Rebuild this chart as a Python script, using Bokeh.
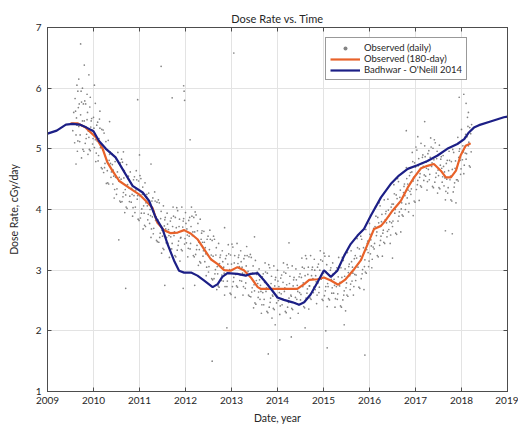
from bokeh.plotting import figure
from bokeh.models import Legend, LegendItem, Label, LinearAxis, FixedTicker
from bokeh.embed import file_html
from bokeh.resources import INLINE

# ---- data (dose rate in units of 1e-4 cGy/day) ----
x_ticks = [2009, 2010, 2011, 2012, 2013, 2014, 2015, 2016, 2017, 2018, 2019]
y_ticks = [1, 2, 3, 4, 5, 6, 7]

# Badhwar - O'Neill 2014 model
bon_year = [2009.0, 2009.2, 2009.4, 2009.55, 2009.7, 2009.85, 2010.0, 2010.12, 2010.27, 2010.48,
            2010.7, 2010.85, 2011.07, 2011.21, 2011.35, 2011.5, 2011.61, 2011.75, 2011.86, 2011.97,
            2012.12, 2012.26, 2012.4, 2012.59, 2012.7, 2012.8, 2012.91, 2013.13, 2013.31, 2013.42,
            2013.57, 2013.71, 2013.86, 2014.0, 2014.14, 2014.33, 2014.47, 2014.58, 2014.72, 2014.87,
            2015.01, 2015.16, 2015.3, 2015.45, 2015.59, 2015.74, 2015.88, 2016.03, 2016.25, 2016.46,
            2016.64, 2016.83, 2017.04, 2017.26, 2017.48, 2017.69, 2017.91, 2018.06, 2018.16, 2018.27,
            2018.38, 2018.63, 2018.92, 2019.0]
bon_dose = [5.25, 5.30, 5.40, 5.41, 5.40, 5.35, 5.29, 5.13, 5.00, 4.86,
            4.58, 4.39, 4.28, 4.14, 3.87, 3.68, 3.43, 3.16, 2.99, 2.96,
            2.96, 2.91, 2.83, 2.72, 2.77, 2.89, 2.95, 2.94, 2.91, 2.94,
            2.95, 2.83, 2.69, 2.55, 2.51, 2.47, 2.43, 2.47, 2.60, 2.80,
            3.00, 2.89, 2.99, 3.24, 3.43, 3.57, 3.68, 3.90, 4.20, 4.42,
            4.56, 4.67, 4.73, 4.80, 4.89, 5.00, 5.08, 5.16, 5.27, 5.35,
            5.39, 5.45, 5.52, 5.53]

# Observed, 180-day average
obs180_year = [2009.5, 2009.65, 2009.83, 2010.05, 2010.2, 2010.3, 2010.41, 2010.56, 2010.77, 2010.99,
               2011.14, 2011.28, 2011.39, 2011.53, 2011.68, 2011.83, 2011.97, 2012.12, 2012.26, 2012.4,
               2012.55, 2012.7, 2012.84, 2012.98, 2013.13, 2013.27, 2013.42, 2013.57, 2013.64, 2014.43,
               2014.58, 2014.69, 2014.87, 2015.01, 2015.16, 2015.32, 2015.48, 2015.67, 2015.81, 2015.96,
               2016.1, 2016.25, 2016.35, 2016.5, 2016.68, 2016.83, 2016.97, 2017.12, 2017.26, 2017.4,
               2017.55, 2017.66, 2017.77, 2017.88, 2017.98, 2018.09, 2018.2]
obs180_dose = [5.42, 5.42, 5.35, 5.19, 5.00, 4.78, 4.64, 4.47, 4.36, 4.25,
               4.14, 4.03, 3.78, 3.66, 3.61, 3.62, 3.66, 3.60, 3.51, 3.35,
               3.18, 3.10, 3.00, 2.99, 3.05, 3.00, 2.88, 2.72, 2.69, 2.69,
               2.77, 2.84, 2.85, 2.88, 2.83, 2.76, 2.85, 3.02, 3.16, 3.43,
               3.68, 3.73, 3.82, 3.98, 4.14, 4.36, 4.53, 4.68, 4.72, 4.75,
               4.64, 4.53, 4.53, 4.64, 4.89, 5.05, 5.09]

# Observed, daily (a sample of the cloud)
daily_year_a = [
    2009.55, 2009.57, 2009.59,
    2009.60, 2009.62, 2009.63, 2009.65, 2009.67, 2009.68,
    2009.70, 2009.72, 2009.73, 2009.75, 2009.77, 2009.78,
    2009.80, 2009.82, 2009.83, 2009.85, 2009.87, 2009.88,
    2009.90, 2009.92, 2009.93, 2009.95, 2009.97, 2009.98,
    2010.00, 2010.02, 2010.03, 2010.05, 2010.07, 2010.08,
    2010.10, 2010.12, 2010.13, 2010.15, 2010.17, 2010.18,
    2010.20, 2010.22, 2010.23, 2010.25, 2010.27, 2010.28,
    2010.30, 2010.32, 2010.33, 2010.35, 2010.37, 2010.38,
    2010.40, 2010.42, 2010.43, 2010.45, 2010.47, 2010.48,
    2010.50, 2010.52, 2010.53, 2010.55, 2010.57, 2010.58,
    2010.60, 2010.62, 2010.63, 2010.65, 2010.67, 2010.68,
    2010.70, 2010.72, 2010.73, 2010.75, 2010.77, 2010.78,
    2010.80, 2010.82, 2010.83, 2010.85, 2010.87, 2010.88,
    2010.90, 2010.92, 2010.93, 2010.95, 2010.97, 2010.98,
    2011.00, 2011.02, 2011.03, 2011.05, 2011.07, 2011.08,
    2011.10, 2011.12, 2011.13, 2011.15, 2011.17, 2011.18,
    2011.20, 2011.22, 2011.23, 2011.25, 2011.27, 2011.28,
    2011.30, 2011.32, 2011.33, 2011.35, 2011.37, 2011.38,
    2011.40, 2011.42, 2011.43, 2011.45, 2011.47, 2011.48,
    2011.50, 2011.52, 2011.53, 2011.55, 2011.57, 2011.58,
    2011.60, 2011.62, 2011.63, 2011.65, 2011.67, 2011.68,
    2011.70, 2011.72, 2011.73, 2011.75, 2011.77, 2011.78,
    2011.80, 2011.82, 2011.83, 2011.85, 2011.87, 2011.88,
    2011.90, 2011.92, 2011.93, 2011.95, 2011.97, 2011.98,
    2012.00, 2012.02, 2012.03, 2012.05, 2012.07, 2012.08,
    2012.10, 2012.12, 2012.13, 2012.15, 2012.17, 2012.18,
    2012.20, 2012.22, 2012.23, 2012.25, 2012.27, 2012.28,
    2012.30, 2012.32, 2012.33, 2012.35, 2012.37, 2012.38,
    2012.40, 2012.42, 2012.43, 2012.45, 2012.47, 2012.48,
    2012.50, 2012.52, 2012.53, 2012.55, 2012.57, 2012.58,
    2012.60, 2012.62, 2012.63, 2012.65, 2012.67, 2012.68,
    2012.70, 2012.72, 2012.73, 2012.75, 2012.77, 2012.78,
    2012.80, 2012.82, 2012.83, 2012.85, 2012.87, 2012.88,
    2012.90, 2012.92, 2012.93, 2012.95, 2012.97, 2012.98,
    2013.00, 2013.02, 2013.03, 2013.05, 2013.07, 2013.08,
    2013.10, 2013.12, 2013.13, 2013.15, 2013.17, 2013.18,
    2013.20, 2013.22, 2013.23, 2013.25, 2013.27, 2013.28,
    2013.30, 2013.32, 2013.33, 2013.35, 2013.37, 2013.38,
    2013.40, 2013.42, 2013.43, 2013.45, 2013.47, 2013.48,
    2013.50, 2013.52, 2013.53, 2013.55, 2013.57, 2013.58,
    2013.60, 2013.62, 2013.63, 2013.65, 2013.67, 2013.68,
    2013.70, 2013.72, 2013.73, 2013.75, 2013.77, 2013.78,
    2013.80, 2013.82, 2013.83, 2013.85, 2013.87, 2013.88,
    2013.90, 2013.92, 2013.93, 2013.95, 2013.97, 2013.98,
    2014.00, 2014.02, 2014.03, 2014.05, 2014.07, 2014.08,
    2014.10, 2014.12, 2014.13, 2014.15, 2014.17, 2014.18,
    2014.20, 2014.22, 2014.23, 2014.25, 2014.27, 2014.28,
    2014.30, 2014.32, 2014.33, 2014.35, 2014.37, 2014.38,
    2014.40, 2014.42, 2014.43, 2014.45, 2014.47, 2014.48,
    2014.50, 2014.52, 2014.53, 2014.55, 2014.57, 2014.58,
    2014.60, 2014.62, 2014.63, 2014.65, 2014.67, 2014.68,
    2014.70, 2014.72, 2014.73, 2014.75, 2014.77, 2014.78,
    2014.80, 2014.82, 2014.83, 2014.85, 2014.87, 2014.88,
    2014.90, 2014.92, 2014.93, 2014.95, 2014.97, 2014.98,
    2015.00, 2015.02, 2015.03, 2015.05, 2015.07, 2015.08,
    2015.10, 2015.12, 2015.13, 2015.15, 2015.17, 2015.18,
    2015.20, 2015.22, 2015.23, 2015.25, 2015.27, 2015.28,
    2015.30, 2015.32, 2015.33, 2015.35, 2015.37, 2015.38,
    2015.40, 2015.42, 2015.43, 2015.45, 2015.47, 2015.48,
    2015.50, 2015.52, 2015.53, 2015.55, 2015.57, 2015.58,
    2015.60, 2015.62, 2015.63, 2015.65, 2015.67, 2015.68,
    2015.70, 2015.72, 2015.73, 2015.75, 2015.77, 2015.78,
    2015.80, 2015.82, 2015.83, 2015.85, 2015.87, 2015.88,
    2015.90, 2015.92, 2015.93, 2015.95, 2015.97, 2015.98,
    2016.00, 2016.02, 2016.03, 2016.05, 2016.07, 2016.08,
    2016.10, 2016.12, 2016.13, 2016.15, 2016.17, 2016.18,
    2016.20, 2016.22, 2016.23, 2016.25, 2016.27, 2016.28,
    2016.30, 2016.32, 2016.33, 2016.35, 2016.37, 2016.38,
    2016.40, 2016.42, 2016.43, 2016.45, 2016.47, 2016.48,
    2016.50, 2016.52, 2016.53, 2016.55, 2016.57, 2016.58,
    2016.60, 2016.62, 2016.63, 2016.65, 2016.67, 2016.68,
    2016.70, 2016.72, 2016.73, 2016.75, 2016.77, 2016.78,
    2016.80, 2016.82, 2016.83, 2016.85, 2016.87, 2016.88,
    2016.90, 2016.92, 2016.93, 2016.95, 2016.97, 2016.98,
    2017.00, 2017.02, 2017.03, 2017.05, 2017.07, 2017.08,
    2017.10, 2017.12, 2017.13, 2017.15, 2017.17, 2017.18,
    2017.20, 2017.22, 2017.23, 2017.25, 2017.27, 2017.28,
    2017.30, 2017.32, 2017.33, 2017.35, 2017.37, 2017.38,
    2017.40, 2017.42, 2017.43, 2017.45, 2017.47, 2017.48,
    2017.50, 2017.52, 2017.53, 2017.55, 2017.57, 2017.58,
    2017.60, 2017.62, 2017.63, 2017.65, 2017.67, 2017.68,
    2017.70, 2017.72, 2017.73, 2017.75, 2017.77, 2017.78,
    2017.80, 2017.82, 2017.83, 2017.85, 2017.87, 2017.88,
    2017.90, 2017.92, 2017.93, 2017.95, 2017.97, 2017.98,
    2018.00, 2018.02, 2018.03, 2018.05, 2018.07, 2018.08,
    2018.10, 2018.12, 2018.13, 2018.15, 2018.17, 2018.18,
    2018.20, 2018.21, 2018.22,
]
daily_dose_a = [
    5.30, 5.60, 5.10,
    5.83, 5.23, 5.51, 4.96, 5.68, 5.37,
    5.12, 5.56, 5.95, 5.38, 4.99, 5.74,
    5.46, 5.09, 5.74, 5.24, 5.60, 4.91,
    5.19, 5.69, 4.97, 5.46, 5.31, 5.08,
    5.52, 5.02, 5.25, 4.79, 5.39, 5.13,
    4.80, 5.17, 5.49, 5.02, 4.69, 5.32,
    4.98, 4.61, 5.26, 4.76, 5.12, 4.43,
    4.64, 5.14, 4.42, 4.91, 4.76, 4.53,
    4.92, 4.42, 4.65, 4.19, 4.79, 4.53,
    4.25, 4.62, 4.94, 4.47, 4.14, 4.77,
    4.50, 4.13, 4.78, 4.28, 4.64, 3.95,
    4.24, 4.74, 4.02, 4.51, 4.36, 4.13,
    4.62, 4.12, 4.35, 3.89, 4.49, 4.23,
    3.95, 4.32, 4.64, 4.17, 3.84, 4.47,
    4.23, 3.86, 4.51, 4.01, 4.37, 3.68,
    3.94, 4.44, 3.72, 4.21, 4.06, 3.83,
    4.27, 3.77, 4.00, 3.54, 4.14, 3.88,
    3.60, 3.97, 4.29, 3.82, 3.49, 4.12,
    3.83, 3.46, 4.11, 3.61, 3.97, 3.28,
    3.56, 4.06, 3.34, 3.83, 3.68, 3.45,
    3.94, 3.44, 3.67, 3.21, 3.81, 3.55,
    3.35, 3.72, 4.04, 3.57, 3.24, 3.87,
    3.70, 3.33, 3.98, 3.48, 3.84, 3.15,
    3.54, 4.04, 3.32, 3.81, 3.66, 3.43,
    3.95, 3.45, 3.68, 3.22, 3.82, 3.56,
    3.35, 3.72, 4.04, 3.57, 3.24, 3.87,
    3.63, 3.26, 3.91, 3.41, 3.77, 3.08,
    3.34, 3.84, 3.12, 3.61, 3.46, 3.23,
    3.64, 3.14, 3.37, 2.91, 3.51, 3.25,
    2.97, 3.34, 3.66, 3.19, 2.86, 3.49,
    3.23, 2.86, 3.51, 3.01, 3.37, 2.68,
    2.94, 3.44, 2.72, 3.21, 3.06, 2.83,
    3.32, 2.82, 3.05, 2.59, 3.19, 2.93,
    2.73, 3.10, 3.42, 2.95, 2.62, 3.25,
    3.10, 2.73, 3.38, 2.88, 3.24, 2.55,
    2.94, 3.44, 2.72, 3.21, 3.06, 2.83,
    3.32, 2.82, 3.05, 2.59, 3.19, 2.93,
    2.70, 3.07, 3.39, 2.92, 2.59, 3.22,
    2.93, 2.56, 3.21, 2.71, 3.07, 2.38,
    2.66, 3.16, 2.44, 2.93, 2.78, 2.55,
    3.02, 2.52, 2.75, 2.29, 2.89, 2.63,
    2.43, 2.80, 3.12, 2.65, 2.32, 2.95,
    2.76, 2.39, 3.04, 2.54, 2.90, 2.21,
    2.57, 3.07, 2.35, 2.84, 2.69, 2.46,
    3.00, 2.50, 2.73, 2.27, 2.87, 2.61,
    2.43, 2.80, 3.12, 2.65, 2.32, 2.95,
    2.76, 2.39, 3.04, 2.54, 2.90, 2.21,
    2.57, 3.07, 2.35, 2.84, 2.69, 2.46,
    3.02, 2.52, 2.75, 2.29, 2.89, 2.63,
    2.51, 2.88, 3.20, 2.73, 2.40, 3.03,
    2.91, 2.54, 3.19, 2.69, 3.05, 2.36,
    2.74, 3.24, 2.52, 3.01, 2.86, 2.63,
    3.18, 2.68, 2.91, 2.45, 3.05, 2.79,
    2.63, 3.00, 3.32, 2.85, 2.52, 3.15,
    2.95, 2.58, 3.23, 2.73, 3.09, 2.40,
    2.73, 3.23, 2.51, 3.00, 2.85, 2.62,
    3.12, 2.62, 2.85, 2.39, 2.99, 2.73,
    2.52, 2.89, 3.21, 2.74, 2.41, 3.04,
    2.88, 2.51, 3.16, 2.66, 3.02, 2.33,
    2.79, 3.29, 2.57, 3.06, 2.91, 2.68,
    3.32, 2.82, 3.05, 2.59, 3.19, 2.93,
    2.83, 3.20, 3.52, 3.05, 2.72, 3.35,
    3.23, 2.86, 3.51, 3.01, 3.37, 2.68,
    3.17, 3.67, 2.95, 3.44, 3.29, 3.06,
    3.77, 3.27, 3.50, 3.04, 3.64, 3.38,
    3.35, 3.72, 4.04, 3.57, 3.24, 3.87,
    3.78, 3.41, 4.06, 3.56, 3.92, 3.23,
    3.66, 4.16, 3.44, 3.93, 3.78, 3.55,
    4.17, 3.67, 3.90, 3.44, 4.04, 3.78,
    3.72, 4.09, 4.41, 3.94, 3.61, 4.24,
    4.18, 3.81, 4.46, 3.96, 4.32, 3.63,
    4.11, 4.61, 3.89, 4.38, 4.23, 4.00,
    4.69, 4.19, 4.42, 3.96, 4.56, 4.30,
    4.25, 4.62, 4.94, 4.47, 4.14, 4.77,
    4.70, 4.33, 4.98, 4.48, 4.84, 4.15,
    4.59, 5.09, 4.37, 4.86, 4.71, 4.48,
    5.05, 4.55, 4.78, 4.32, 4.92, 4.66,
    4.49, 4.86, 5.18, 4.71, 4.38, 5.01,
    4.82, 4.45, 5.10, 4.60, 4.96, 4.27,
    4.56, 5.06, 4.34, 4.83, 4.68, 4.45,
    4.89, 4.39, 4.62, 4.16, 4.76, 4.50,
    4.27, 4.64, 4.96, 4.49, 4.16, 4.79,
    4.66, 4.29, 4.94, 4.44, 4.80, 4.11,
    4.69, 5.19, 4.47, 4.96, 4.81, 4.58,
    5.32, 4.82, 5.05, 4.59, 5.19, 4.93,
    4.83, 5.20, 5.52, 5.05, 4.72, 5.35,
    5.25, 4.95, 5.40,
]
daily_year_b = [
    2009.61, 2009.64, 2009.66, 2009.69,
    2009.71, 2009.74, 2009.76, 2009.79,
    2009.81, 2009.84, 2009.86, 2009.89,
    2009.91, 2009.94, 2009.96, 2009.99,
    2010.01, 2010.04, 2010.06, 2010.09,
    2010.11, 2010.14, 2010.16, 2010.19,
    2010.21, 2010.24, 2010.26, 2010.29,
    2010.31, 2010.34, 2010.36, 2010.39,
    2010.41, 2010.44, 2010.46, 2010.49,
    2010.51, 2010.54, 2010.56, 2010.59,
    2010.61, 2010.64, 2010.66, 2010.69,
    2010.71, 2010.74, 2010.76, 2010.79,
    2010.81, 2010.84, 2010.86, 2010.89,
    2010.91, 2010.94, 2010.96, 2010.99,
    2011.01, 2011.04, 2011.06, 2011.09,
    2011.11, 2011.14, 2011.16, 2011.19,
    2011.21, 2011.24, 2011.26, 2011.29,
    2011.31, 2011.34, 2011.36, 2011.39,
    2011.41, 2011.44, 2011.46, 2011.49,
    2011.51, 2011.54, 2011.56, 2011.59,
    2011.61, 2011.64, 2011.66, 2011.69,
    2011.71, 2011.74, 2011.76, 2011.79,
    2011.81, 2011.84, 2011.86, 2011.89,
    2011.91, 2011.94, 2011.96, 2011.99,
    2012.01, 2012.04, 2012.06, 2012.09,
    2012.11, 2012.14, 2012.16, 2012.19,
    2012.21, 2012.24, 2012.26, 2012.29,
    2012.31, 2012.34, 2012.36, 2012.39,
    2012.41, 2012.44, 2012.46, 2012.49,
    2012.51, 2012.54, 2012.56, 2012.59,
    2012.61, 2012.64, 2012.66, 2012.69,
    2012.71, 2012.74, 2012.76, 2012.79,
    2012.81, 2012.84, 2012.86, 2012.89,
    2012.91, 2012.94, 2012.96, 2012.99,
    2013.01, 2013.04, 2013.06, 2013.09,
    2013.11, 2013.14, 2013.16, 2013.19,
    2013.21, 2013.24, 2013.26, 2013.29,
    2013.31, 2013.34, 2013.36, 2013.39,
    2013.41, 2013.44, 2013.46, 2013.49,
    2013.51, 2013.54, 2013.56, 2013.59,
    2013.61, 2013.64, 2013.66, 2013.69,
    2013.71, 2013.74, 2013.76, 2013.79,
    2013.81, 2013.84, 2013.86, 2013.89,
    2013.91, 2013.94, 2013.96, 2013.99,
    2014.01, 2014.04, 2014.06, 2014.09,
    2014.11, 2014.14, 2014.16, 2014.19,
    2014.21, 2014.24, 2014.26, 2014.29,
    2014.31, 2014.34, 2014.36, 2014.39,
    2014.41, 2014.44, 2014.46, 2014.49,
    2014.51, 2014.54, 2014.56, 2014.59,
    2014.61, 2014.64, 2014.66, 2014.69,
    2014.71, 2014.74, 2014.76, 2014.79,
    2014.81, 2014.84, 2014.86, 2014.89,
    2014.91, 2014.94, 2014.96, 2014.99,
    2015.01, 2015.04, 2015.06, 2015.09,
    2015.11, 2015.14, 2015.16, 2015.19,
    2015.21, 2015.24, 2015.26, 2015.29,
    2015.31, 2015.34, 2015.36, 2015.39,
    2015.41, 2015.44, 2015.46, 2015.49,
    2015.51, 2015.54, 2015.56, 2015.59,
    2015.61, 2015.64, 2015.66, 2015.69,
    2015.71, 2015.74, 2015.76, 2015.79,
    2015.81, 2015.84, 2015.86, 2015.89,
    2015.91, 2015.94, 2015.96, 2015.99,
    2016.01, 2016.04, 2016.06, 2016.09,
    2016.11, 2016.14, 2016.16, 2016.19,
    2016.21, 2016.24, 2016.26, 2016.29,
    2016.31, 2016.34, 2016.36, 2016.39,
    2016.41, 2016.44, 2016.46, 2016.49,
    2016.51, 2016.54, 2016.56, 2016.59,
    2016.61, 2016.64, 2016.66, 2016.69,
    2016.71, 2016.74, 2016.76, 2016.79,
    2016.81, 2016.84, 2016.86, 2016.89,
    2016.91, 2016.94, 2016.96, 2016.99,
    2017.01, 2017.04, 2017.06, 2017.09,
    2017.11, 2017.14, 2017.16, 2017.19,
    2017.21, 2017.24, 2017.26, 2017.29,
    2017.31, 2017.34, 2017.36, 2017.39,
    2017.41, 2017.44, 2017.46, 2017.49,
    2017.51, 2017.54, 2017.56, 2017.59,
    2017.61, 2017.64, 2017.66, 2017.69,
    2017.71, 2017.74, 2017.76, 2017.79,
    2017.81, 2017.84, 2017.86, 2017.89,
    2017.91, 2017.94, 2017.96, 2017.99,
    2018.01, 2018.04, 2018.06, 2018.09,
    2018.11, 2018.14, 2018.16, 2018.19,
]
daily_dose_b = [
    5.62, 5.39, 5.13, 5.74,
    5.23, 5.77, 5.46, 4.96,
    5.79, 5.17, 5.48, 5.29,
    4.99, 5.36, 5.50, 5.17,
    5.34, 5.15, 4.93, 5.44,
    4.89, 5.34, 5.08, 4.67,
    5.31, 4.69, 5.00, 4.81,
    4.44, 4.81, 4.95, 4.62,
    4.74, 4.55, 4.33, 4.84,
    4.34, 4.79, 4.53, 4.12,
    4.83, 4.21, 4.52, 4.33,
    4.04, 4.41, 4.55, 4.22,
    4.44, 4.25, 4.03, 4.54,
    4.04, 4.49, 4.23, 3.82,
    4.56, 3.94, 4.25, 4.06,
    3.74, 4.11, 4.25, 3.92,
    4.09, 3.90, 3.68, 4.19,
    3.69, 4.14, 3.88, 3.47,
    4.16, 3.54, 3.85, 3.66,
    3.36, 3.73, 3.87, 3.54,
    3.76, 3.57, 3.35, 3.86,
    3.44, 3.89, 3.63, 3.22,
    4.03, 3.41, 3.72, 3.53,
    3.34, 3.71, 3.85, 3.52,
    3.77, 3.58, 3.36, 3.87,
    3.44, 3.89, 3.63, 3.22,
    3.96, 3.34, 3.65, 3.46,
    3.14, 3.51, 3.65, 3.32,
    3.46, 3.27, 3.05, 3.56,
    3.06, 3.51, 3.25, 2.84,
    3.56, 2.94, 3.25, 3.06,
    2.74, 3.11, 3.25, 2.92,
    3.14, 2.95, 2.73, 3.24,
    2.82, 3.27, 3.01, 2.60,
    3.43, 2.81, 3.12, 2.93,
    2.74, 3.11, 3.25, 2.92,
    3.14, 2.95, 2.73, 3.24,
    2.79, 3.24, 2.98, 2.57,
    3.26, 2.64, 2.95, 2.76,
    2.46, 2.83, 2.97, 2.64,
    2.84, 2.65, 2.43, 2.94,
    2.52, 2.97, 2.71, 2.30,
    3.09, 2.47, 2.78, 2.59,
    2.37, 2.74, 2.88, 2.55,
    2.82, 2.63, 2.41, 2.92,
    2.52, 2.97, 2.71, 2.30,
    3.09, 2.47, 2.78, 2.59,
    2.37, 2.74, 2.88, 2.55,
    2.84, 2.65, 2.43, 2.94,
    2.60, 3.05, 2.79, 2.38,
    3.24, 2.62, 2.93, 2.74,
    2.54, 2.91, 3.05, 2.72,
    3.00, 2.81, 2.59, 3.10,
    2.72, 3.17, 2.91, 2.50,
    3.28, 2.66, 2.97, 2.78,
    2.53, 2.90, 3.04, 2.71,
    2.94, 2.75, 2.53, 3.04,
    2.61, 3.06, 2.80, 2.39,
    3.21, 2.59, 2.90, 2.71,
    2.59, 2.96, 3.10, 2.77,
    3.14, 2.95, 2.73, 3.24,
    2.92, 3.37, 3.11, 2.70,
    3.56, 2.94, 3.25, 3.06,
    2.97, 3.34, 3.48, 3.15,
    3.59, 3.40, 3.18, 3.69,
    3.44, 3.89, 3.63, 3.22,
    4.11, 3.49, 3.80, 3.61,
    3.46, 3.83, 3.97, 3.64,
    3.99, 3.80, 3.58, 4.09,
    3.81, 4.26, 4.00, 3.59,
    4.51, 3.89, 4.20, 4.01,
    3.91, 4.28, 4.42, 4.09,
    4.51, 4.32, 4.10, 4.61,
    4.34, 4.79, 4.53, 4.12,
    5.03, 4.41, 4.72, 4.53,
    4.39, 4.76, 4.90, 4.57,
    4.87, 4.68, 4.46, 4.97,
    4.58, 5.03, 4.77, 4.36,
    5.15, 4.53, 4.84, 4.65,
    4.36, 4.73, 4.87, 4.54,
    4.71, 4.52, 4.30, 4.81,
    4.36, 4.81, 4.55, 4.14,
    4.99, 4.37, 4.68, 4.49,
    4.49, 4.86, 5.00, 4.67,
    5.14, 4.95, 4.73, 5.24,
    4.92, 5.37, 5.11, 4.70,
]
# scattered outliers
daily_year_c = [
    2009.72, 2009.80, 2009.90, 2010.02, 2009.68, 2010.35, 2010.96, 2011.47, 2011.71, 2011.96,
    2011.97, 2011.98, 2012.10, 2013.05, 2010.70, 2010.55, 2012.58, 2012.90, 2013.80, 2013.95,
    2014.05, 2014.30, 2015.05, 2015.08, 2015.45, 2015.90, 2016.50, 2017.80, 2017.65, 2018.10,
    2018.05, 2017.95, 2018.15, 2014.60, 2012.20, 2011.95, 2011.55, 2016.80, 2017.20, 2017.05,
    2016.95, 2014.25, 2013.50, 2012.85, 2010.65, 2011.25, 2011.00, 2009.64, 2009.76, 2009.86,
    2009.66, 2009.93, 2010.04, 2010.14, 2009.62, 2009.74,
]
daily_dose_c = [
    6.73, 6.38, 6.22, 6.05, 6.15, 5.45, 5.81, 6.36, 5.84, 6.04,
    5.95, 5.80, 5.15, 6.58, 2.70, 3.50, 1.50, 2.05, 1.62, 2.10,
    1.85, 1.90, 2.00, 1.72, 2.10, 1.60, 3.20, 3.60, 3.65, 5.75,
    5.90, 5.85, 5.60, 2.05, 2.75, 2.70, 2.75, 5.30, 5.45, 5.20,
    3.90, 3.45, 3.55, 3.70, 4.95, 4.75, 4.90, 6.05, 6.00, 5.90,
    5.95, 5.85, 5.75, 5.62, 4.75, 4.85,
]

daily_year = daily_year_a + daily_year_b + daily_year_c
daily_dose = daily_dose_a + daily_dose_b + daily_dose_c

FONT = "Lato"
TXT = "#262626"
AX = "#4d4d4d"

p = figure(width=518, height=427, x_range=(2009, 2019), y_range=(1, 7),
           output_backend="svg", toolbar_location=None,
           min_border_left=47, min_border_right=11, min_border_top=27, min_border_bottom=36,
           title="Dose Rate vs. Time")
p.title.align = "center"
p.title.text_font = FONT
p.title.text_font_size = "11px"
p.title.text_font_style = "normal"
p.title.text_color = TXT
p.title.standoff = 6

for ax in (p.xaxis[0], p.yaxis[0]):
    ax.major_tick_in = 4
    ax.major_tick_out = 0
    ax.minor_tick_line_color = None
    ax.axis_line_color = AX
    ax.major_tick_line_color = AX
    ax.major_label_text_font = FONT
    ax.major_label_text_font_size = "10px"
    ax.major_label_text_color = TXT
    ax.axis_label_text_font = FONT
    ax.axis_label_text_font_size = "10.5px"
    ax.axis_label_text_font_style = "normal"
    ax.axis_label_text_color = TXT

p.xaxis[0].ticker = FixedTicker(ticks=x_ticks)
p.yaxis[0].ticker = FixedTicker(ticks=y_ticks)
p.xaxis[0].axis_label = "Date, year"
p.yaxis[0].axis_label = "Dose Rate, cGy/day"
p.xaxis[0].major_label_standoff = 5
p.xaxis[0].axis_label_standoff = 5
p.yaxis[0].major_label_standoff = 6
p.yaxis[0].axis_label_standoff = 13

# box axes (top / right) with inward ticks, no labels drawn
top = LinearAxis(ticker=FixedTicker(ticks=x_ticks), major_label_text_font_size="0px",
                 major_label_text_color=None,
                 major_tick_in=4, major_tick_out=0, minor_tick_line_color=None,
                 axis_line_color=AX, major_tick_line_color=AX, major_label_standoff=0)
right = LinearAxis(ticker=FixedTicker(ticks=y_ticks), major_label_text_font_size="0px",
                   major_label_text_color=None,
                   major_tick_in=4, major_tick_out=0, minor_tick_line_color=None,
                   axis_line_color=AX, major_tick_line_color=AX, major_label_standoff=0)
p.add_layout(top, "above")
p.add_layout(right, "right")

p.xgrid.grid_line_color = "#e3e3e3"
p.ygrid.grid_line_color = "#e3e3e3"
p.xgrid.ticker = FixedTicker(ticks=x_ticks)
p.ygrid.ticker = FixedTicker(ticks=y_ticks)
p.outline_line_color = AX

r_daily = p.scatter(daily_year, daily_dose, size=1.7, marker="circle",
                    fill_color="#6e6e6e", line_color=None, fill_alpha=0.85)
r_180 = p.line(obs180_year, obs180_dose, line_color="#E8622A", line_width=2.2)
r_bon = p.line(bon_year, bon_dose, line_color="#1C1F86", line_width=2.2)

exp_label = Label(x=2009, y=7, x_offset=1, y_offset=1, text="× 10⁻⁴",
                  text_font=FONT, text_font_size="9.5px", text_color=TXT,
                  text_baseline="bottom")
p.add_layout(exp_label)

legend = Legend(items=[
    LegendItem(label="Observed (daily)", renderers=[r_daily]),
    LegendItem(label="Observed (180-day)", renderers=[r_180]),
    LegendItem(label="Badhwar - O'Neill 2014", renderers=[r_bon]),
], location=(278, 311))
legend.label_text_font = FONT
legend.label_text_font_size = "9.5px"
legend.label_text_color = TXT
legend.glyph_width = 30
legend.glyph_height = 10
legend.label_height = 10
legend.label_standoff = 4
legend.spacing = 0
legend.padding = 4
legend.margin = 0
legend.border_line_color = "#333333"
legend.border_line_width = 1
legend.background_fill_alpha = 1
p.add_layout(legend)

open("out.html", "w").write(file_html(p, INLINE))
